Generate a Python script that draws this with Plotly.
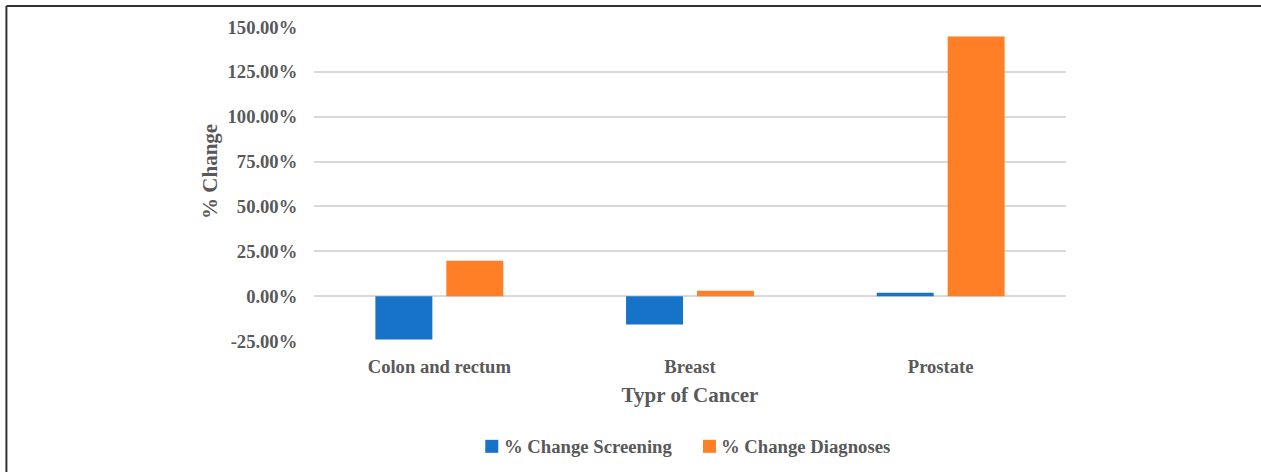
import plotly.graph_objects as go

# Percentage change by cancer type
cancer_types = ["Colon and rectum", "Breast", "Prostate"]
change_screening = [-24.2, -15.8, 1.9]
change_diagnoses = [19.7, 3.0, 144.7]
series_names = ["% Change Screening", "% Change Diagnoses"]
y_ticks = [-25, 0, 25, 50, 75, 100, 125, 150]
y_tick_labels = ["-25.00%", "0.00%", "25.00%", "50.00%", "75.00%", "100.00%", "125.00%", "150.00%"]

FONT = "Liberation Serif"
TEXT = "#595959"
BLUE = "#1773C8"
ORANGE = "#FF7F27"
GRID = "#D9D9D9"

W, H = 1261, 472
ML, MR, MT, MB = 313.5, 194.5, 26.5, 131
PW, PH = W - ML - MR, H - MT - MB


def px_x(px):
    return (px - ML) / PW


def px_y(py):
    return (H - MB - py) / PH


fig = go.Figure()
for name, vals, col in zip(series_names, [change_screening, change_diagnoses], [BLUE, ORANGE]):
    fig.add_trace(go.Bar(x=cancer_types, y=vals, name=name,
                         marker=dict(color=col, line=dict(width=0))))

# outer frame (top and left edges)
fig.add_shape(type="line", xref="paper", yref="paper",
              x0=px_x(5.5), x1=px_x(W + 5), y0=px_y(5.5), y1=px_y(5.5),
              line=dict(color="#333333", width=2))
fig.add_shape(type="line", xref="paper", yref="paper",
              x0=px_x(5.5), x1=px_x(5.5), y0=px_y(5.5), y1=px_y(H + 5),
              line=dict(color="#333333", width=2))

# y-axis title, placed a little above the plot's vertical centre
fig.add_annotation(xref="paper", yref="paper", x=px_x(210), y=px_y(171),
                   xanchor="center", yanchor="middle", showarrow=False,
                   text="% Change", textangle=-90,
                   font=dict(family=FONT, size=21, color=TEXT, weight="bold"))

# legend: coloured squares with labels
legend_items = [(485, 502, series_names[0], BLUE), (703, 719, series_names[1], ORANGE)]
for sq_x, tx_x, label, col in legend_items:
    fig.add_shape(type="rect", xref="paper", yref="paper",
                  x0=px_x(sq_x), x1=px_x(sq_x + 13), y0=px_y(440), y1=px_y(453),
                  fillcolor=col, line=dict(width=0))
    fig.add_annotation(xref="paper", yref="paper", x=px_x(tx_x), y=px_y(446.5),
                       xanchor="left", yanchor="middle", showarrow=False, text=label,
                       font=dict(family=FONT, size=18.7, color=TEXT, weight="bold"))

fig.update_layout(
    width=W, height=H,
    margin=dict(l=ML, r=MR, t=MT, b=MB, pad=0, autoexpand=False),
    paper_bgcolor="white", plot_bgcolor="white",
    barmode="group", bargap=0.434, bargroupgap=0.197,
    font=dict(family=FONT, color=TEXT, size=18),
    showlegend=False,
    xaxis=dict(
        automargin=False,
        showgrid=False, showline=False, zeroline=False,
        ticks="outside", ticklen=9, tickcolor="rgba(0,0,0,0)",
        tickfont=dict(family=FONT, size=18.6, color=TEXT, weight="bold"),
        title=dict(text="Typr of Cancer", standoff=10,
                   font=dict(family=FONT, size=21, color=TEXT, weight="bold")),
    ),
    yaxis=dict(
        automargin=False,
        range=[-25, 150], tickvals=y_ticks, ticktext=y_tick_labels,
        showgrid=True, gridcolor=GRID, gridwidth=1.5,
        zeroline=True, zerolinecolor=GRID, zerolinewidth=1.5,
        showline=False,
        ticks="outside", ticklen=12, tickcolor="rgba(0,0,0,0)",
        tickfont=dict(family=FONT, size=18.6, color=TEXT, weight="bold"),
    ),
)

fig.write_html("out.html")
